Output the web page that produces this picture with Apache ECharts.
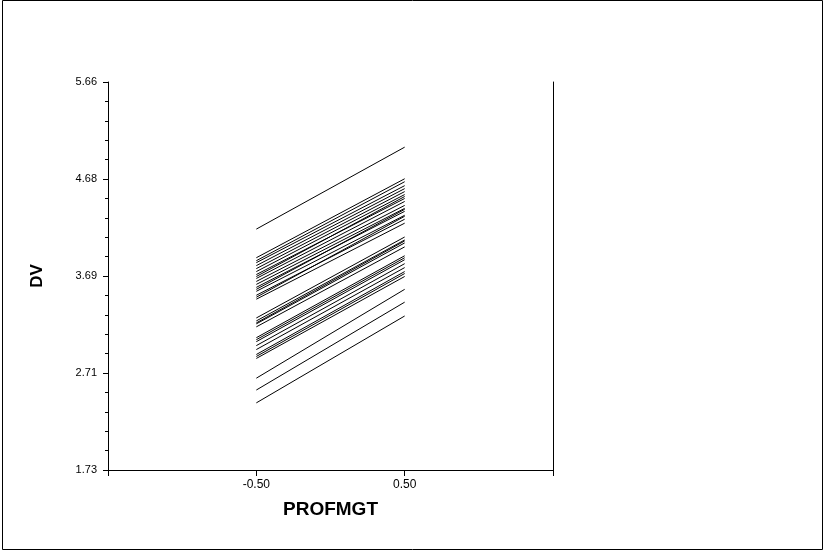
<!DOCTYPE html>
<html>
<head>
<meta charset="utf-8">
<script src="https://cdn.jsdelivr.net/npm/echarts@6/dist/echarts.min.js"></script>
<style>
html,body{margin:0;padding:0;background:#fff;}
#chart{width:825px;height:551px;}
</style>
</head>
<body>
<div id="chart"></div>
<script>
// categories on the x axis (PROFMGT)
var xCategories = ['-1.50', '-0.50', '0.50', '1.50'];
var xTickLabels = ['', '-0.50', '0.50', ''];
// y tick labels
var yTickLabels = ['1.73', '2.71', '3.69', '4.68', '5.66'];
var yMin = 1.73, yMax = 5.66;
// DV at PROFMGT = -0.50 for each line
var dvLow = [4.17, 3.88, 3.85, 3.83, 3.80, 3.77, 3.74, 3.71, 3.69, 3.67, 3.64, 3.61, 3.58, 3.56, 3.54, 3.50, 3.48, 3.46,
             3.27, 3.24, 3.22, 3.21, 3.18, 3.07, 3.05, 3.03, 2.99, 2.95, 2.90, 2.88, 2.86, 2.66, 2.54, 2.41];
// DV at PROFMGT = 0.50 for each line
var dvHigh = [5.00, 4.68, 4.65, 4.61, 4.58, 4.55, 4.52, 4.48, 4.50, 4.45, 4.41, 4.38, 4.35, 4.37, 4.31, 4.27, 4.30, 4.23,
              4.09, 4.06, 4.05, 4.03, 3.99, 3.90, 3.88, 3.86, 3.82, 3.78, 3.74, 3.72, 3.69, 3.56, 3.43, 3.29];

var chart = echarts.init(document.getElementById('chart'), null, {renderer: 'canvas'});
var series = dvLow.map(function (lo, i) {
  return {
    type: 'line',
    data: [[xCategories[1], lo], [xCategories[2], dvHigh[i]]],
    symbol: 'none',
    silent: true,
    lineStyle: {color: '#000', width: 1},
    animation: false
  };
});
var font = 'Liberation Sans, Arial, sans-serif';
chart.setOption({
  animation: false,
  backgroundColor: '#fff',
  grid: {left: 108, right: 272, top: 82, bottom: 81, containLabel: false},
  xAxis: {
    type: 'category',
    data: xCategories,
    boundaryGap: false,
    name: 'PROFMGT',
    nameLocation: 'middle',
    nameGap: 30,
    nameTextStyle: {color: '#000', fontSize: 19, fontWeight: 'bold', fontFamily: font},
    axisLine: {show: true, lineStyle: {color: '#000', width: 1}},
    axisTick: {show: true, length: 6, interval: 0, lineStyle: {color: '#000'}},
    axisLabel: {
      interval: 0, margin: 9, color: '#000', fontSize: 12, fontFamily: font,
      formatter: function (v, idx) { return xTickLabels[idx]; }
    },
    splitLine: {show: false}
  },
  yAxis: [{
    type: 'value',
    min: yMin,
    max: yMax,
    interval: (yMax - yMin) / 4,
    name: 'DV',
    nameLocation: 'middle',
    nameGap: 62,
    nameRotate: 90,
    nameTextStyle: {color: '#000', fontSize: 17, fontWeight: 'bold', fontFamily: font},
    axisLine: {show: true, lineStyle: {color: '#000', width: 1}},
    axisTick: {show: true, length: 5, lineStyle: {color: '#000'}},
    minorTick: {show: true, splitNumber: 5, length: 3, lineStyle: {color: '#000'}},
    axisLabel: {
      margin: 11, color: '#000', fontSize: 11, fontFamily: font,
      formatter: function (v, idx) { return yTickLabels[idx]; }
    },
    splitLine: {show: false}
  }, {
    type: 'value',
    position: 'right',
    min: yMin,
    max: yMax,
    axisLine: {show: true, lineStyle: {color: '#000', width: 1}},
    axisTick: {show: false},
    axisLabel: {show: false},
    splitLine: {show: false}
  }],
  graphic: [{
    type: 'rect',
    shape: {x: 2.5, y: 0.5, width: 820, height: 549},
    style: {fill: 'none', stroke: '#000', lineWidth: 1},
    silent: true
  }],
  series: series
});
</script>
</body>
</html>
